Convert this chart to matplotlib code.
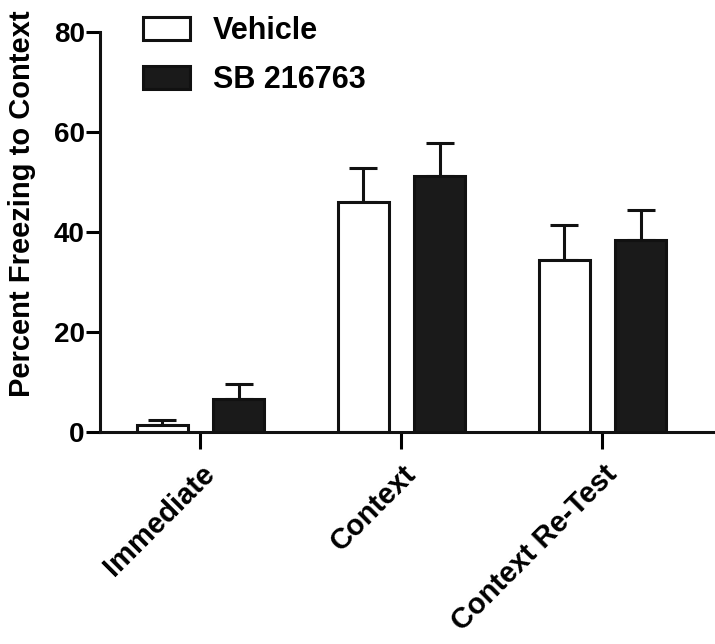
import numpy as np
import matplotlib.pyplot as plt

groups = ["Immediate", "Context", "Context Re-Test"]
vehicle = [1.4, 46.1, 34.5]
vehicle_err = [1.0, 6.7, 6.9]
sb = [6.6, 51.3, 38.4]
sb_err = [3.0, 6.6, 6.1]

plt.rcParams["font.family"] = ["Liberation Sans", "DejaVu Sans"]
plt.rcParams["font.weight"] = "bold"

fig = plt.figure(figsize=(7.15, 6.44), dpi=100)
ax = fig.add_axes([100 / 715, 1 - 432 / 644, 615 / 715, 400 / 644])

x = np.arange(len(groups))
w = 0.255
off = 0.19
lw = 2.2
ax.bar(x - off, vehicle, w, color="white", edgecolor="#111111", linewidth=lw,
       label="Vehicle", zorder=3)
ax.bar(x + off, sb, w, color="#1a1a1a", edgecolor="#111111", linewidth=lw,
       label="SB 216763", zorder=3)
ax.errorbar(x - off, vehicle, yerr=[np.zeros(3), vehicle_err], fmt="none",
            ecolor="#111111", elinewidth=lw, capsize=10, capthick=lw, zorder=2)
ax.errorbar(x + off, sb, yerr=[np.zeros(3), sb_err], fmt="none",
            ecolor="#111111", elinewidth=lw, capsize=10, capthick=lw, zorder=2)

ax.set_xlim(-0.5, 2.56)
ax.set_ylim(0, 80)
ax.set_yticks([0, 20, 40, 60, 80])
ax.set_xticks(x)
ax.set_xticklabels(groups, rotation=45, ha="right", rotation_mode="anchor",
                   fontsize=21, fontweight="bold")
ax.tick_params(axis="y", labelsize=20, width=lw, length=10, pad=1)
ax.tick_params(axis="x", width=lw, length=12, pad=8)
for s in ["top", "right"]:
    ax.spines[s].set_visible(False)
for s in ["left", "bottom"]:
    ax.spines[s].set_linewidth(lw)
    ax.spines[s].set_color("#111111")
ax.spines["bottom"].set_zorder(4)
ax.set_ylabel("Percent Freezing to Context", fontsize=21, fontweight="bold")
ax.yaxis.set_label_coords(-0.104, 0.57)

fig.legend(loc="upper left", bbox_to_anchor=(143 / 715, 1 - 16 / 644),
           frameon=False, fontsize=22, handlelength=1.55, handleheight=0.8,
           handletextpad=0.75, labelspacing=0.62, borderpad=0, borderaxespad=0)

fig.savefig("out.png", dpi=100)
